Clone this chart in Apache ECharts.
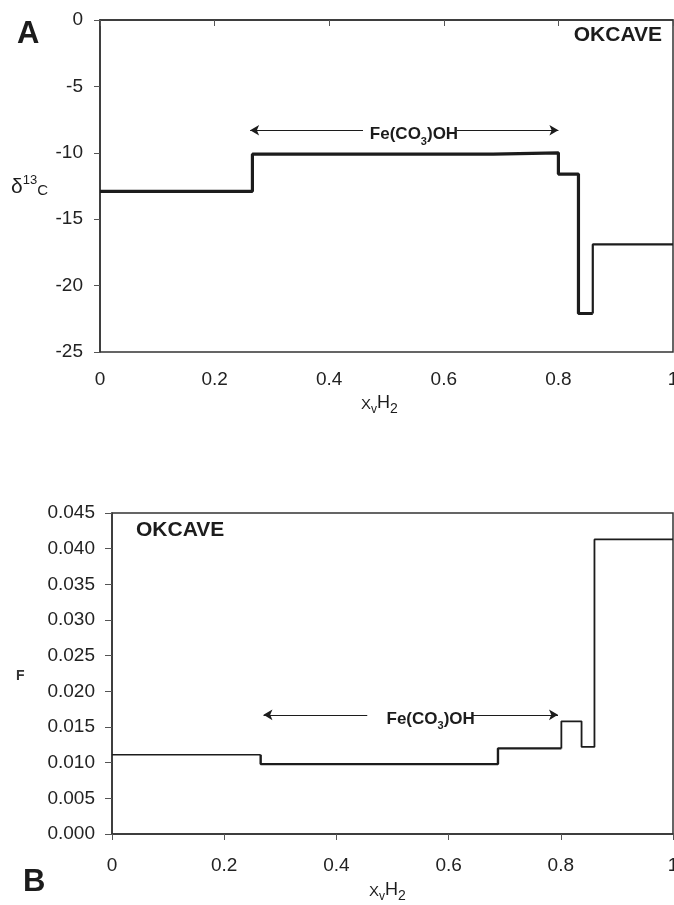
<!DOCTYPE html>
<html>
<head>
<meta charset="utf-8">
<script src="https://cdn.jsdelivr.net/npm/echarts@6/dist/echarts.min.js"></script>
<style>
html, body { margin: 0; padding: 0; background: #fff; }
#chart { width: 674px; height: 905px; }
</style>
</head>
<body>
<div id="chart"></div>
<script>
// panel A: step edges along XvH2 and d13C of each step
var edgesA = [0, 0.266, 0.686, 0.800, 0.835, 0.860, 1];
var d13C = [-12.9, -10.1, -10.0, -11.6, -22.1, -16.9];
// panel B: step edges and F of each step
var edgesB = [0, 0.265, 0.688, 0.801, 0.837, 0.860, 1];
var fValues = [0.0111, 0.0098, 0.0120, 0.0158, 0.0122, 0.0413];
// Fe(CO3)OH arrows: left tip, gap start, gap end, right tip
var arrowA = [0.262, 0.459, 0.623, 0.800];
var arrowAY = -8.3;
var labelAX = 0.548;
var arrowB = [0.270, 0.455, 0.642, 0.795];
var arrowBY = 0.0167;
var labelBX = 0.568;

var ink = '#1c1c1c';
var fontFam = '"Liberation Sans", Arial, sans-serif';

// polyline of steps i0..i1, optional vertical lead in from previous step
var stepLine = function(edges, vals, i0, i1, leadIn) {
	var pts = [];
	if (leadIn) pts.push([edges[i0], vals[i0 - 1]]);
	for (var i = i0; i <= i1; i++) {
		pts.push([edges[i], vals[i]]);
		pts.push([edges[i + 1], vals[i]]);
	}
	return pts;
};

var lineSeries = function(idx, data, width) {
	return {
		type: 'line', xAxisIndex: idx, yAxisIndex: idx,
		data: data, symbol: 'none', silent: true,
		lineStyle: { color: ink, width: width }
	};
};

var arrowSeries = function(idx, a, y, lx) {
	return {
		type: 'scatter', xAxisIndex: idx, yAxisIndex: idx,
		data: [[lx, y]], symbolSize: 0, silent: true,
		itemStyle: { opacity: 1 },
		label: {
			show: true, position: 'inside', offset: [0, 3], opacity: 1,
			formatter: '{a|Fe(CO}{s|3}{a|)OH}',
			rich: {
				a: { fontSize: 17, fontWeight: 'bold', color: ink, fontFamily: fontFam, lineHeight: 20, verticalAlign: 'bottom' },
				s: { fontSize: 11, fontWeight: 'bold', color: ink, fontFamily: fontFam, lineHeight: 14, verticalAlign: 'bottom', padding: [0, 0, -4, 0] }
			}
		},
		markLine: {
			silent: true, symbol: ['none', 'arrow'], symbolSize: [8, 9],
			label: { show: false },
			lineStyle: { color: ink, width: 1.2, type: 'solid', opacity: 1 },
			data: [
				[{ coord: [a[1], y] }, { coord: [a[0], y] }],
				[{ coord: [a[2], y] }, { coord: [a[3], y] }]
			]
		}
	};
};

var axisX = function(idx, margin) {
	return {
		type: 'value', gridIndex: idx, min: 0, max: 1, interval: 0.2,
		axisLine: { show: true, lineStyle: { color: '#333', width: 1.5 } },
		axisTick: { show: true, length: 6, lineStyle: { color: '#555' } },
		axisLabel: { fontSize: 19, color: '#222', fontFamily: fontFam, margin: margin },
		splitLine: { show: false }
	};
};

var subLabel = {
	x: { fontSize: 15, fontFamily: fontFam, fill: ink, lineHeight: 20, verticalAlign: 'bottom' },
	v: { fontSize: 12, fontFamily: fontFam, fill: ink, lineHeight: 14, verticalAlign: 'bottom', padding: [0, 0, -4, 0] },
	h: { fontSize: 18, fontFamily: fontFam, fill: ink, lineHeight: 20, verticalAlign: 'bottom' },
	t: { fontSize: 14, fontFamily: fontFam, fill: ink, lineHeight: 14, verticalAlign: 'bottom', padding: [0, 0, -4, 0] }
};

var myChart = echarts.init(document.getElementById('chart'));
myChart.setOption({
	animation: false,
	grid: [
		{ left: 100, top: 20, width: 573, height: 332, show: true, borderColor: '#333', borderWidth: 1.5, outerBoundsMode: 'none', containLabel: false },
		{ left: 112, top: 513, width: 561, height: 321, show: true, borderColor: '#333', borderWidth: 1.5, outerBoundsMode: 'none', containLabel: false }
	],
	xAxis: [axisX(0, 18), axisX(1, 22)],
	yAxis: [{
		type: 'value', gridIndex: 0, min: -25, max: 0, interval: 5,
		axisLine: { show: true, lineStyle: { color: '#333', width: 1.5 } },
		axisTick: { show: true, length: 6, lineStyle: { color: '#555' } },
		axisLabel: { fontSize: 19, color: '#222', fontFamily: fontFam, margin: 17 },
		splitLine: { show: false }
	}, {
		type: 'value', gridIndex: 1, min: 0, max: 0.045, interval: 0.005,
		axisLine: { show: true, lineStyle: { color: '#333', width: 1.5 } },
		axisTick: { show: true, length: 7, lineStyle: { color: '#555' } },
		axisLabel: {
			fontSize: 19, color: '#222', fontFamily: fontFam, margin: 17,
			formatter: function(v) { return v.toFixed(3); }
		},
		splitLine: { show: false }
	}],
	series: [
		lineSeries(0, stepLine(edgesA, d13C, 0, 4, false), 3.2),
		lineSeries(0, stepLine(edgesA, d13C, 5, 5, true), 2.2),
		lineSeries(1, stepLine(edgesB, fValues, 0, 0, false), 1.4),
		lineSeries(1, stepLine(edgesB, fValues, 1, 2, true), 2.4),
		lineSeries(1, stepLine(edgesB, fValues, 3, 5, true), 1.8),
		arrowSeries(0, arrowA, arrowAY, labelAX),
		arrowSeries(1, arrowB, arrowBY, labelBX)
	],
	graphic: [
		{ type: 'text', left: 17, top: 19, style: { text: 'A', fontSize: 31, fontWeight: 'bold', fill: ink, fontFamily: fontFam } },
		{ type: 'text', left: 23, top: 867, style: { text: 'B', fontSize: 31, fontWeight: 'bold', fill: ink, fontFamily: fontFam } },
		{ type: 'text', right: 12, top: 25, style: { text: 'OKCAVE', fontSize: 21, fontWeight: 'bold', fill: ink, fontFamily: fontFam } },
		{ type: 'text', left: 136, top: 520, style: { text: 'OKCAVE', fontSize: 21, fontWeight: 'bold', fill: ink, fontFamily: fontFam } },
		{ type: 'text', left: 11, top: 174, style: {
			text: '{d|δ}{s|13}{c|C}', fill: ink,
			rich: {
				d: { fontSize: 21, fontFamily: fontFam, fill: ink, lineHeight: 24, verticalAlign: 'bottom' },
				s: { fontSize: 13, fontFamily: fontFam, fill: ink, lineHeight: 24, verticalAlign: 'top' },
				c: { fontSize: 15, fontFamily: fontFam, fill: ink, lineHeight: 22, verticalAlign: 'bottom' }
			}
		} },
		{ type: 'text', left: 16, top: 669, style: { text: 'F', fontSize: 14, fontWeight: 'bold', fontFamily: fontFam, fill: '#333' } },
		{ type: 'text', left: 361, top: 394, style: { text: '{x|X}{v|v}{h|H}{t|2}', fill: ink, rich: subLabel } },
		{ type: 'text', left: 369, top: 881, style: { text: '{x|X}{v|v}{h|H}{t|2}', fill: ink, rich: subLabel } }
	]
});
</script>
</body>
</html>
